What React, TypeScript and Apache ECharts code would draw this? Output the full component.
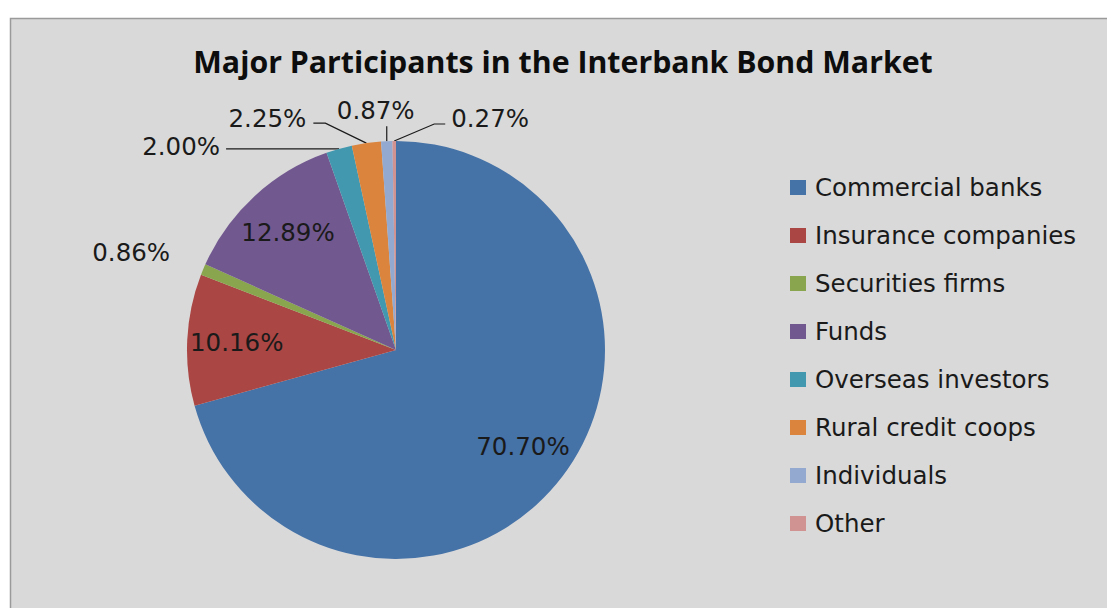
import React, { useEffect, useRef } from "react";
import * as echarts from "echarts";

// ---- data ----
const categories = [
  "Commercial banks",
  "Insurance companies",
  "Securities firms",
  "Funds",
  "Overseas investors",
  "Rural credit coops",
  "Individuals",
  "Other",
];
const shares = [70.7, 10.16, 0.86, 12.89, 2.0, 2.25, 0.87, 0.27];
const insideLabelIndexes = [0, 1, 3];
const titleText = "Major Participants in the Interbank Bond Market";

// ---- styles ----
const colors = ["#4572A7", "#AA4643", "#89A54E", "#71588F", "#4198AF", "#DB843D", "#93A9CF", "#D19392"];
const TITLE_FONT = "'Open Sans', sans-serif";
const TEXT_FONT = "'DejaVu Sans', sans-serif";
const CENTER: [number, number] = [396, 350];
const RADIUS = 209;
const INNER_LABEL_R0 = 104;

// leader-line / text offsets relative to the slice's edge anchor
const outsidePlacement: Record<number, { line: number[][]; text: [number, number]; align: string }> = {
  2: { line: [], text: [-33, -17], align: "right" },
  4: { line: [[-113, 0]], text: [-119, -2], align: "right" },
  5: { line: [[-41, -20], [-53, -20]], text: [-60, -25], align: "right" },
  6: { line: [[0, -15]], text: [-11, -31], align: "center" },
  7: { line: [[40, -17], [51, -17]], text: [57, -23], align: "left" },
};

function anchorFor(index: number): [number, number] {
  const total = shares.reduce((a, b) => a + b, 0);
  let before = 0;
  for (let i = 0; i < index; i++) before += shares[i];
  const mid = ((before + shares[index] / 2) / total) * Math.PI * 2;
  return [CENTER[0] + RADIUS * Math.sin(mid), CENTER[1] - RADIUS * Math.cos(mid)];
}

export default function App() {
  const ref = useRef<HTMLDivElement>(null);

  useEffect(() => {
    if (!ref.current) return;
    const chart = echarts.init(ref.current, undefined, { renderer: "svg" });

    const labelText = {
      fontFamily: TEXT_FONT,
      fontSize: 24.5,
      color: "#1a1a1a",
      formatter: (p: any) => p.value.toFixed(2) + "%",
    };

    const mainData = categories.map((name, i) => {
      const outside = !!outsidePlacement[i];
      return {
        name,
        value: shares[i],
        itemStyle: { color: colors[i] },
        label: { show: outside, position: "outside" },
        labelLine: { show: outside && outsidePlacement[i].line.length > 0 },
      };
    });

    const overlayData = categories.map((name, i) => ({
      name,
      value: shares[i],
      label: { show: insideLabelIndexes.includes(i) },
    }));

    chart.setOption({
      animation: false,
      backgroundColor: "#ffffff",
      color: colors,
      graphic: [
        {
          type: "rect",
          z: -10,
          shape: { x: 10.5, y: 18.5, width: 1130, height: 620 },
          style: { fill: "#d9d9d9", stroke: "#9a9a9a", lineWidth: 1.5 },
          silent: true,
        },
      ],
      title: {
        text: titleText,
        left: 563,
        top: 43,
        textAlign: "center",
        padding: 0,
        textStyle: {
          fontFamily: TITLE_FONT,
          fontSize: 30.3,
          fontWeight: "bold",
          color: "#0d0d0d",
          lineHeight: 36,
        },
      },
      legend: {
        data: categories,
        orient: "vertical",
        left: 790,
        top: 175,
        padding: 0,
        icon: "rect",
        itemWidth: 16,
        itemHeight: 15,
        itemGap: 23,
        selectedMode: false,
        textStyle: {
          fontFamily: TEXT_FONT,
          fontSize: 24.5,
          lineHeight: 25,
          color: "#1a1a1a",
          padding: [0, 0, 0, 4],
        },
      },
      series: [
        {
          type: "pie",
          name: "main",
          center: CENTER,
          radius: [0, RADIUS],
          startAngle: 90,
          clockwise: true,
          avoidLabelOverlap: false,
          padAngle: 0,
          itemStyle: { borderWidth: 0 },
          emphasis: { disabled: true },
          label: { ...labelText },
          labelLine: { lineStyle: { color: "#1a1a1a", width: 1.2 }, smooth: false },
          labelLayout: (params: any) => {
            const p = outsidePlacement[params.dataIndex];
            if (!p) return {};
            const pts = params.labelLinePoints;
            const [ax, ay] = pts && pts[0] ? pts[0] : anchorFor(params.dataIndex);
            const out: any = {
              x: ax + p.text[0],
              y: ay + p.text[1],
              align: p.align,
              verticalAlign: "middle",
            };
            if (p.line.length) {
              out.labelLinePoints = [[ax, ay], ...p.line.map(([dx, dy]) => [ax + dx, ay + dy])];
            }
            return out;
          },
          data: mainData,
        },
        {
          type: "pie",
          name: "labels",
          center: CENTER,
          radius: [INNER_LABEL_R0, RADIUS],
          startAngle: 90,
          clockwise: true,
          silent: true,
          legendHoverLink: false,
          avoidLabelOverlap: false,
          padAngle: 0,
          itemStyle: { color: "rgba(0,0,0,0)", borderWidth: 0 },
          emphasis: { disabled: true },
          label: { ...labelText, position: "inside" },
          labelLine: { show: false },
          data: overlayData,
        },
      ],
    });

    return () => chart.dispose();
  }, []);

  return (
    <div
      ref={ref}
      style={{ position: "absolute", left: 0, top: 0, width: 1107, height: 608 }}
    />
  );
}
